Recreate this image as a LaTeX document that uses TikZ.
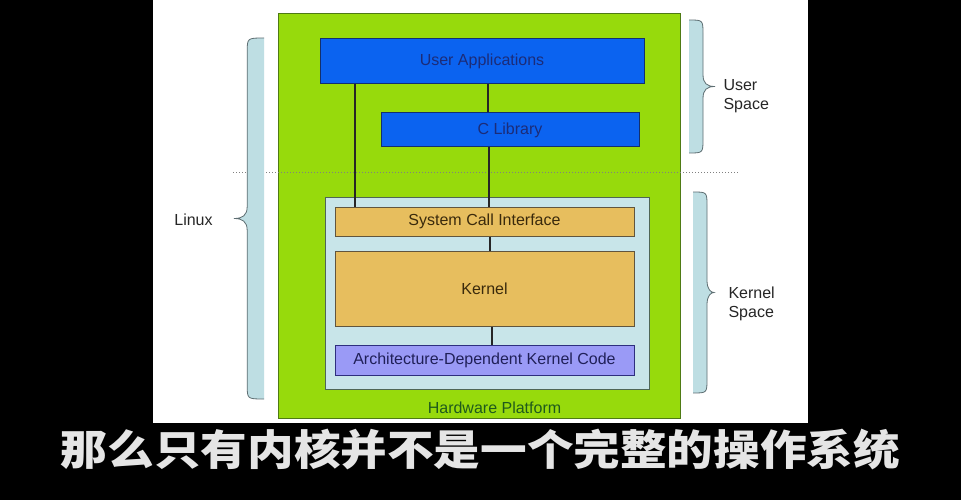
\documentclass[tikz,border=0pt]{standalone}
\usepackage{fontspec}
\setmainfont{Liberation Sans}
\newfontfamily\cjk{Noto Sans CJK SC}
\usetikzlibrary{
		calc,
		positioning
	}
\definecolor{hwgreen}{HTML}{97DA0C}
\definecolor{hwline}{HTML}{4E7A14}
\definecolor{hwtext}{HTML}{1F5A1C}
\definecolor{userblue}{HTML}{0B63F0}
\definecolor{userline}{HTML}{13306E}
\definecolor{usertext}{HTML}{1C2C78}
\definecolor{kspace}{HTML}{C8E5E9}
\definecolor{kline}{HTML}{4F6656}
\definecolor{kernfill}{HTML}{E7BE5E}
\definecolor{kerntext}{HTML}{3A2A0C}
\definecolor{archfill}{HTML}{9A9AF6}
\definecolor{archline}{HTML}{2E2E7E}
\definecolor{bracefill}{HTML}{BEDEE3}
\definecolor{braceline}{HTML}{5E6E72}
\tikzset{
		>=stealth,
		every node/.style={font=\fontsize{16}{19}\selectfont},
		box/.style={draw, line width=1pt, inner sep=0pt},
		userbox/.style={box, fill=userblue, draw=userline, text=usertext},
		kernbox/.style={box, fill=kernfill, draw=kerntext!80, text=kerntext},
		link/.style={line width=1.6pt, draw=black!85}
	}
\tikzset{pics/brace/.style 2 args={code={
	\fill[bracefill] (0,-#1) .. controls (14,-#1) .. (14,{-#1+14}) -- (14,-12) .. controls (14,-3) and (18,0) .. (#2,0)
		.. controls (18,0) and (14,3) .. (14,12) -- (14,{#1-14}) .. controls (14,#1) .. (0,#1) -- cycle;
	\draw[braceline, line width=0.8pt] (0,-#1) .. controls (14,-#1) .. (14,{-#1+14}) -- (14,-12) .. controls (14,-3) and (18,0) .. (#2,0)
		.. controls (18,0) and (14,3) .. (14,12) -- (14,{#1-14}) .. controls (14,#1) .. (0,#1);
	}}}

\begin{document}
\begin{tikzpicture}[x=1pt, y=-1pt] % (one unit = one pixel of the slide, y going down)
		\useasboundingbox (0,0) rectangle (961,500);
		\fill[black] (0,0) rectangle (961,500);
		\fill[white] (153,0) rectangle (808,423);
		% platform and kernel space
		\node[box, fill=hwgreen, draw=hwline, minimum width=402pt, minimum height=404pt] (hw) at (479,216) {};
		\node[text=hwtext] (hwlabel) at (494.5,408) {Hardware Platform};
		\draw[dotted, line width=1pt, black!50] (233,172) -- (738,172);
		\node[box, fill=kspace, draw=kline, minimum width=324pt, minimum height=192pt] (ks) at (487,293) {};
		% blocks
		\node[userbox, minimum width=324pt, minimum height=45pt] (ua) at (482,61.5) {User Applications};
		\node[userbox, minimum width=258pt, minimum height=34pt] (clib) at (510,130) {C Library};
		\node[kernbox, minimum width=299pt, minimum height=29pt] (sci) at (484.5,221.5) {System Call Interface};
		\node[kernbox, minimum width=299pt, minimum height=75pt] (kern) at (484.5,288.5) {Kernel};
		\node[box, fill=archfill, draw=archline, text=archline!70!black, minimum width=299pt, minimum height=30pt] (arch) at (484.5,360) {Architecture-Dependent Kernel Code};
		\foreach \a/\b/\x in {ua/sci/355,ua/clib/488,clib/sci/489,sci/kern/490,kern/arch/492} {
			\coordinate (cx) at (\x,0);
			\draw[link] (\a.south -| cx) -- (\b.north -| cx);
		}
		% braces and their labels
		\draw (264,218.5) pic[xscale=-1.2]{brace={180.5}{25}};
		\draw (689,86.5) pic{brace={66.5}{26}};
		\draw (693,292.5) pic{brace={100.5}{21}};
		\node[text=black!85] (linux) at (193.5,220) {Linux};
		\node[anchor=west, align=left, text=black!85] (uspace) at (720,96.5) {User\\Space};
		\node[anchor=west, align=left, text=black!85] (kspacelabel) at (725,303.5) {Kernel\\Space};
		% subtitle
		\node[font=\cjk\bfseries\fontsize{42}{50}\selectfont, text=white!90!black, xscale=1.11] (sub) at (480.5,449) {那么只有内核并不是一个完整的操作系统};
	\end{tikzpicture}
\end{document}
